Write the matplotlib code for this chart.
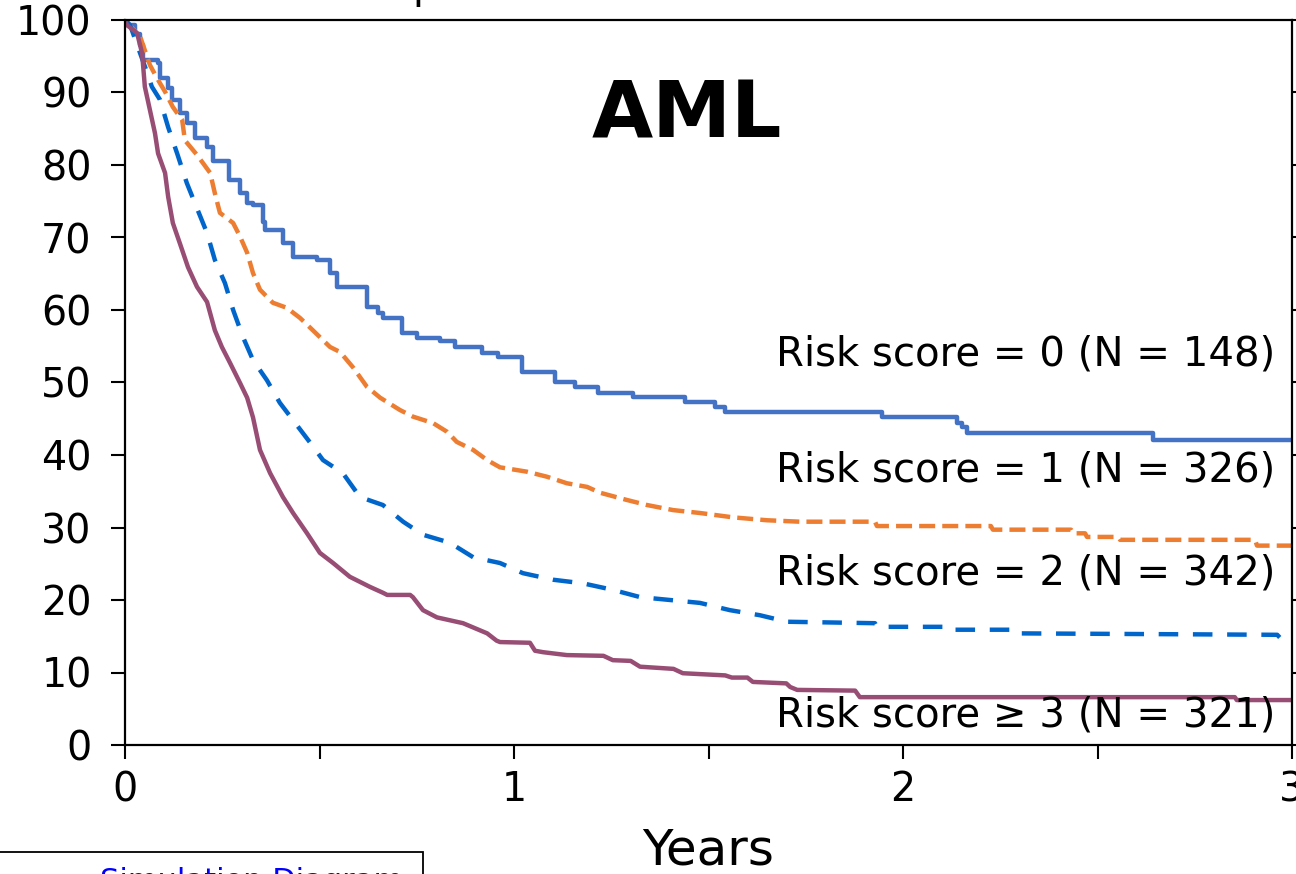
import matplotlib
matplotlib.use("Agg")
import matplotlib.pyplot as plt
from matplotlib.patches import Rectangle

# ---- data (years, survival %) ----
# Risk score = 0 : Kaplan-Meier step points (value holds from t until next t)
t0 = [0, 0.005, 0.026, 0.039, 0.046, 0.085, 0.090, 0.111, 0.121, 0.141, 0.159, 0.180,
      0.211, 0.226, 0.268, 0.296, 0.314, 0.329, 0.355, 0.360, 0.406, 0.432, 0.494, 0.527,
      0.545, 0.622, 0.650, 0.663, 0.712, 0.751, 0.810, 0.848, 0.918, 0.959, 1.021, 1.105,
      1.157, 1.216, 1.306, 1.440, 1.517, 1.542, 1.946, 2.139, 2.152, 2.165, 2.643, 3.0]
s0 = [100, 99.3, 98.0, 96.6, 94.5, 94.0, 92.0, 90.6, 89.0, 87.2, 85.8, 83.7,
      82.5, 80.5, 77.9, 76.1, 74.8, 74.5, 72.1, 71.0, 69.2, 67.3, 66.9, 65.1,
      63.2, 60.4, 59.6, 58.9, 56.8, 56.1, 55.7, 54.9, 54.1, 53.5, 51.4, 50.1,
      49.4, 48.6, 48.0, 47.3, 46.6, 45.9, 45.3, 44.4, 43.9, 43.0, 42.1, 42.1]

# Risk score = 1 : traced curve vertices
t1 = [0, 0.039, 0.064, 0.082, 0.103, 0.123, 0.147, 0.154, 0.185, 0.219, 0.231, 0.244,
      0.278, 0.296, 0.314, 0.329, 0.347, 0.380, 0.416, 0.450, 0.483, 0.527, 0.553, 0.586,
      0.622, 0.656, 0.707, 0.740, 0.792, 0.828, 0.853, 0.895, 0.931, 0.964, 1.033, 1.085,
      1.136, 1.188, 1.221, 1.290, 1.342, 1.409, 1.478, 1.563, 1.650, 1.735, 1.928, 1.933,
      2.226, 2.231, 2.432, 2.437, 2.468, 2.473, 2.553, 2.558, 2.905, 2.910, 3.0]
s1 = [100, 97.7, 93.8, 92.0, 90.1, 88.0, 86.2, 83.4, 81.4, 78.9, 76.1, 73.4,
      72.0, 70.1, 67.9, 65.1, 62.8, 61.0, 60.3, 58.9, 57.2, 54.9, 54.2, 52.1,
      49.4, 47.9, 46.2, 45.3, 44.4, 43.2, 41.8, 40.7, 39.3, 38.3, 37.7, 37.0,
      36.1, 35.6, 34.8, 33.8, 33.1, 32.4, 32.0, 31.4, 31.0, 30.8, 30.8, 30.2,
      30.2, 29.7, 29.7, 29.2, 29.2, 28.7, 28.7, 28.3, 28.3, 27.5, 27.5]

# Risk score = 2 : traced curve vertices
t2 = [0, 0.013, 0.057, 0.069, 0.090, 0.111, 0.134, 0.159, 0.180, 0.211, 0.231, 0.257,
      0.278, 0.303, 0.329, 0.365, 0.398, 0.432, 0.476, 0.509, 0.560, 0.604, 0.663, 0.715,
      0.766, 0.835, 0.895, 0.964, 1.023, 1.100, 1.177, 1.254, 1.324, 1.401, 1.478, 1.555,
      1.632, 1.702, 1.928, 1.933, 2.108, 2.113, 2.278, 2.283, 2.962, 2.969, 3.0]
s2 = [100, 99.3, 92.7, 90.8, 89.0, 85.2, 81.6, 77.5, 74.7, 70.6, 66.9, 63.7,
      60.0, 56.3, 53.1, 50.3, 47.2, 44.8, 41.7, 39.3, 37.5, 34.2, 33.1, 30.8,
      29.0, 27.9, 25.9, 25.1, 23.7, 22.8, 22.3, 21.4, 20.4, 20.0, 19.6, 18.6,
      17.9, 17.0, 16.8, 16.3, 16.3, 15.9, 15.9, 15.4, 15.2, 14.8, 14.8]

# Risk score >= 3 : traced curve vertices
t3 = [0, 0.005, 0.031, 0.044, 0.051, 0.064, 0.077, 0.085, 0.103, 0.111, 0.123, 0.141,
      0.162, 0.185, 0.211, 0.231, 0.249, 0.270, 0.296, 0.314, 0.329, 0.347, 0.373, 0.406,
      0.432, 0.468, 0.501, 0.535, 0.578, 0.630, 0.663, 0.674, 0.733, 0.740, 0.766, 0.802,
      0.869, 0.931, 0.955, 0.964, 1.041, 1.054, 1.075, 1.136, 1.230, 1.254, 1.300, 1.324,
      1.410, 1.434, 1.543, 1.560, 1.600, 1.614, 1.700, 1.710, 1.728, 1.877, 1.889, 2.853,
      2.858, 3.0]
s3 = [100, 99.3, 98.2, 95.4, 90.8, 87.6, 84.4, 81.6, 78.9, 75.6, 72.0, 69.2,
      65.9, 63.2, 61.1, 57.2, 54.9, 52.7, 49.9, 47.9, 45.2, 40.7, 37.5, 34.2,
      32.0, 29.2, 26.5, 25.1, 23.2, 21.8, 21.0, 20.7, 20.7, 20.4, 18.6, 17.6,
      16.8, 15.4, 14.4, 14.2, 14.1, 13.0, 12.8, 12.4, 12.3, 11.7, 11.6, 10.8,
      10.5, 9.9, 9.6, 9.3, 9.3, 8.7, 8.5, 8.0, 7.6, 7.5, 6.6, 6.6,
      6.2, 6.2]

labels = ["Risk score = 0 (N = 148)", "Risk score = 1 (N = 326)",
          "Risk score = 2 (N = 342)", "Risk score \u2265 3 (N = 321)"]
label_y = [53.8, 37.9, 23.7, 4.0]
yticks = list(range(0, 101, 10))
xticks = [0, 1, 2, 3]

# ---- figure ----
W, H = 1296, 874
fig = plt.figure(figsize=(W / 100, H / 100), dpi=100)
ax = fig.add_axes([125 / W, (H - 745) / H, (1292 - 125) / W, (745 - 20) / H])

LW = 3.2
ax.plot(t0, s0, drawstyle="steps-post", color="#4472C4", lw=LW)
ax.plot(t1, s1, color="#ED7D31", lw=LW, dashes=(3.6, 1.6))
ax.plot(t2, s2, color="#0066CC", lw=LW, dashes=(4.4, 3.3))
ax.plot(t3, s3, color="#984E74", lw=LW)

ax.set_xlim(0, 3)
ax.set_ylim(0, 100)
ax.set_yticks(yticks)
ax.set_xticks(xticks)
ax.set_xticks([0.5, 1.5, 2.5], minor=True)
ax.tick_params(axis="y", which="major", direction="out", length=10, width=1.5,
               labelsize=28.5, pad=14, right=True)
ax.tick_params(axis="x", which="both", direction="out", length=10, width=1.5,
               labelsize=28.5, pad=8)
for sp in ax.spines.values():
    sp.set_linewidth(1.6)
ax.set_xlabel("Years", fontsize=36, labelpad=12)

for lab, y in zip(labels, label_y):
    ax.text(2.956, y, lab, fontsize=29, ha="right", va="center")

ax.text(1.445, 86.8, "AML", fontsize=57, fontweight="bold", ha="center", va="center")

# partial elements cropped at the figure edges (as in the reference)
fig.text(412 / W, 1 + 2 / H, "p", fontsize=29, ha="left", va="baseline")
fig.patches.append(Rectangle((-5 / W, -40 / H), 428 / W, 62 / H, transform=fig.transFigure,
                             fill=False, edgecolor="black", lw=1.3))
fig.text(100 / W, -16 / H, "Simulation Diagram", fontsize=22, color="#0000FF",
         ha="left", va="baseline")

fig.savefig("out.png", dpi=100)
